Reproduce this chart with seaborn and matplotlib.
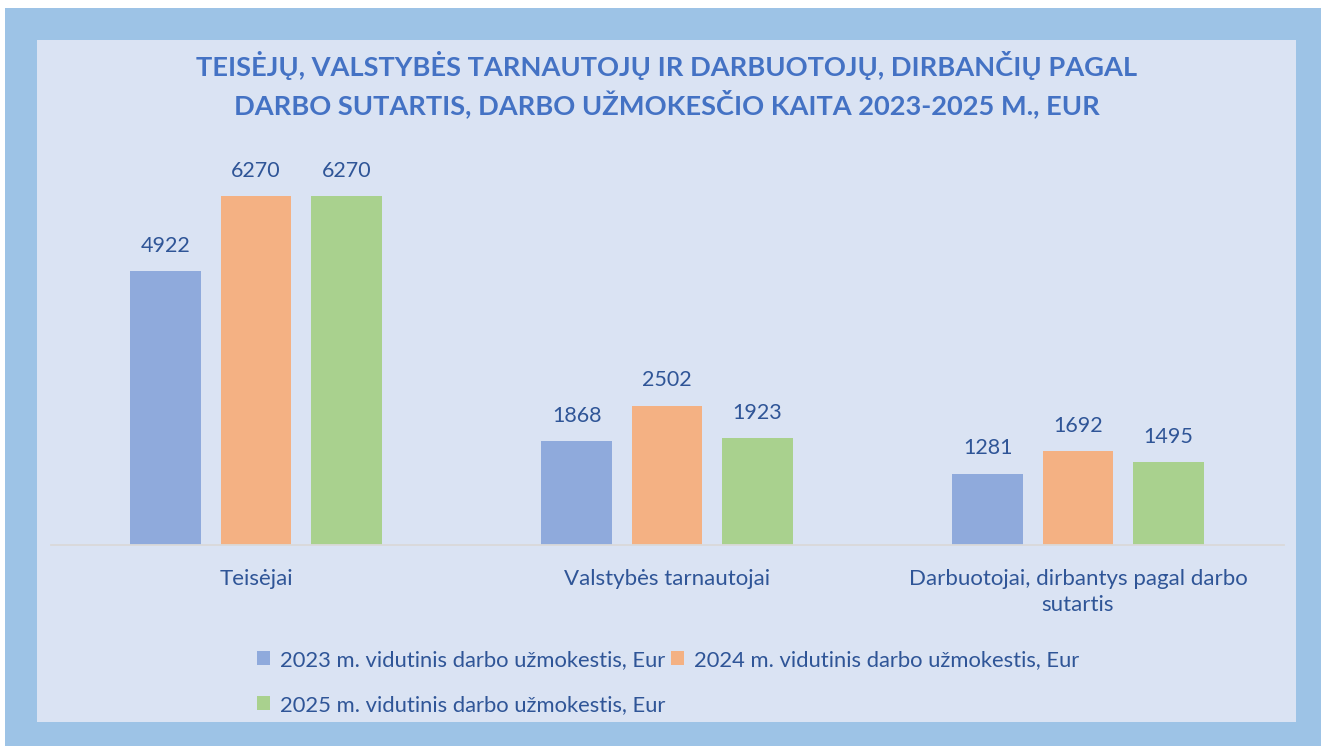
import pandas as pd
import matplotlib
matplotlib.use("Agg")
import matplotlib.pyplot as plt
import seaborn as sns
from matplotlib.patches import Rectangle

# Duomenys
categories = ["Teisėjai", "Valstybės tarnautojai", "Darbuotojai, dirbantys pagal darbo\nsutartis"]
series = [
    "2023 m. vidutinis darbo užmokestis, Eur",
    "2024 m. vidutinis darbo užmokestis, Eur",
    "2025 m. vidutinis darbo užmokestis, Eur",
]
values_2023 = [4922, 1868, 1281]
values_2024 = [6270, 2502, 1692]
values_2025 = [6270, 1923, 1495]

title = ("TEISĖJŲ, VALSTYBĖS TARNAUTOJŲ IR DARBUOTOJŲ, DIRBANČIŲ PAGAL\n"
         "DARBO SUTARTIS, DARBO UŽMOKESČIO KAITA 2023-2025 M., EUR")

colors = ["#8FAADC", "#F4B183", "#A9D18E"]
text_col = "#2F5597"
title_col = "#4472C4"

rows = []
for vals, s in zip([values_2023, values_2024, values_2025], series):
    for c, v in zip(categories, vals):
        rows.append({"Kategorija": c, "Serija": s, "Reiksme": v})
df = pd.DataFrame(rows)

sns.set_theme(style="white")
plt.rcParams["font.family"] = ["Lato", "DejaVu Sans"]

W, H = 1321, 746
fig = plt.figure(figsize=(W / 100, H / 100), dpi=100)
fig.patch.set_facecolor("white")

# fonai
fig.patches.append(Rectangle((5 / W, 0), 1 - 5 / W, (H - 8) / H, transform=fig.transFigure,
                             facecolor="#9DC3E6", edgecolor="none", zorder=-3))
fig.patches.append(Rectangle((37 / W, (H - 722) / H), (1296 - 37) / W, (722 - 40) / H,
                             transform=fig.transFigure, facecolor="#DAE3F3", edgecolor="none", zorder=-2))

ymax = 7000
px_per_unit = (545 - 196) / 6270
ax_top = 545 - ymax * px_per_unit
ax = fig.add_axes([50.5 / W, (H - 545) / H, 1233 / W, (545 - ax_top) / H])
ax.set_facecolor("none")

sns.barplot(data=df, x="Kategorija", y="Reiksme", hue="Serija", palette=colors,
            width=0.66, gap=0.215, saturation=1, linewidth=0, ax=ax, legend=True)

ax.set_xlim(-0.5, 2.5)
ax.set_ylim(0, ymax)
ax.set_xlabel("")
ax.set_ylabel("")
ax.set_yticks([])
for side in ["left", "right", "top"]:
    ax.spines[side].set_visible(False)
ax.spines["bottom"].set_color("#D9D9D9")
ax.spines["bottom"].set_linewidth(1.3)
ax.tick_params(axis="x", length=0, pad=17, labelsize=16, labelcolor=text_col)
for lbl in ax.get_xticklabels():
    lbl.set_linespacing(1.4)
    lbl.set_verticalalignment("top")

for cont in ax.containers:
    for bar in cont:
        h = bar.get_height()
        ax.annotate(f"{h:.0f}", (bar.get_x() + bar.get_width() / 2, h),
                    xytext=(0, 18.2), textcoords="offset points",
                    ha="center", va="center", fontsize=15.5, color=text_col)

handles, labels = ax.get_legend_handles_labels()
ax.get_legend().remove()
order = [0, 2, 1]
leg = fig.legend([handles[i] for i in order], [labels[i] for i in order],
                 ncol=2, loc="upper left", bbox_to_anchor=(237 / W, (H - 630) / H),
                 frameon=False, fontsize=15.8, handlelength=0.6, handleheight=0.6,
                 handletextpad=0.45, columnspacing=0.25, labelspacing=1.15,
                 labelcolor=text_col)

fig.text(666.5 / W, (H - 84.5) / H, title, ha="center", va="center",
         fontsize=19.6, fontweight="bold", color=title_col, linespacing=1.35)

fig.savefig("out.png", dpi=100)
